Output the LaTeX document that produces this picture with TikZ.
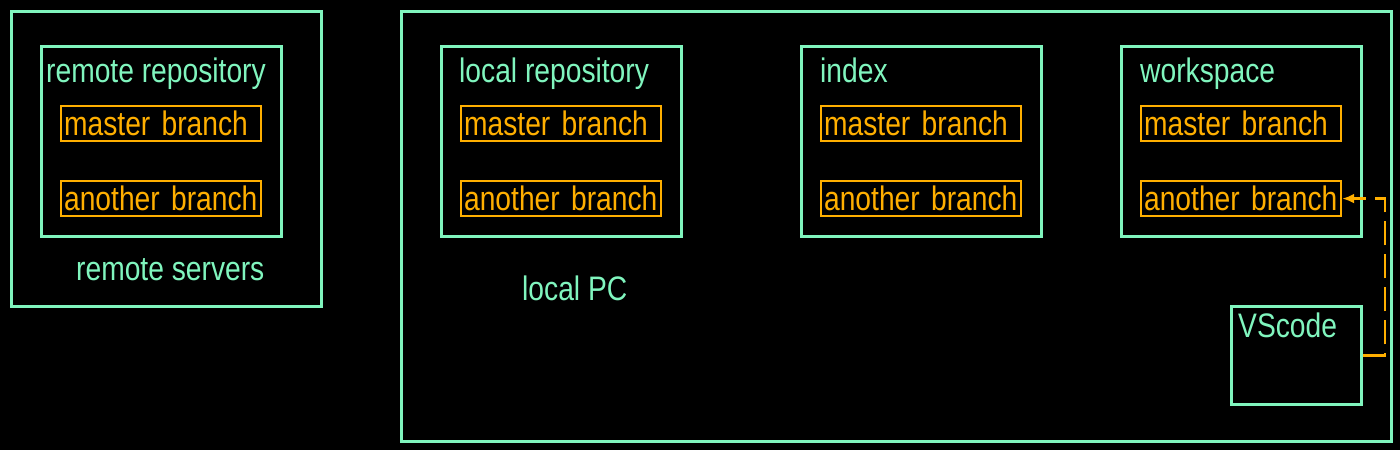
\documentclass[tikz,border=0pt]{standalone}
\usepackage{fontspec}
\setmainfont{Liberation Sans}[FakeStretch=0.83]
\usetikzlibrary{arrows.meta}
\definecolor{mint}{RGB}{128,245,190}
\definecolor{amber}{RGB}{255,175,0}
\begin{document}
\begin{tikzpicture}[x=1pt,y=-1pt,
  frame/.style={draw=mint, line width=2.8pt, anchor=north west, inner sep=0pt},
  branch/.style={draw=amber, line width=2.2pt, anchor=north west, minimum width=200pt, minimum height=35pt,
    inner xsep=3pt, inner ysep=0pt, text width=194pt, align=left, text=amber, text depth=0pt,
    font=\fontsize{34}{34}\selectfont},
  lbl/.style={text=mint, anchor=base west, inner sep=0pt, font=\fontsize{34}{34}\selectfont}]
\fill[black] (0,0) rectangle (1400,450);
\useasboundingbox (0,0) rectangle (1400,450);
% remote servers
\node[frame, minimum width=310pt, minimum height=295pt] (rs) at (10,10) {};
\node[frame, minimum width=240pt, minimum height=190pt] (rr) at (40,45) {};
\node[lbl] (rrt) at (46,82) {remote repository};
\node[branch] (rm) at (60,105) {master branch};
\node[branch] (ra) at (60,180) {another branch};
\node[lbl] (rst) at (76,280) {remote servers};
% local PC
\node[frame, minimum width=990pt, minimum height=430pt] (pc) at (400,10) {};
\node[lbl] (pct) at (522,300) {local PC};
\node[frame, minimum width=240pt, minimum height=190pt] (lr) at (440,45) {};
\node[lbl] (lrt) at (459,82) {local repository};
\node[branch] (lm) at (460,105) {master branch};
\node[branch] (la) at (460,180) {another branch};
\node[frame, minimum width=240pt, minimum height=190pt] (ix) at (800,45) {};
\node[lbl] (ixt) at (820,82) {index};
\node[branch] (im) at (820,105) {master branch};
\node[branch] (ia) at (820,180) {another branch};
\node[frame, minimum width=240pt, minimum height=190pt] (ws) at (1120,45) {};
\node[lbl] (wst) at (1140,82) {workspace};
\node[branch] (wm) at (1140,105) {master branch};
\node[branch] (wa) at (1140,180) {another branch};
\node[frame, minimum width=130pt, minimum height=98pt] (vs) at (1230,305) {};
\node[lbl] (vst) at (1238,337) {VScode};
\draw[amber, line width=2.5pt, dash pattern=on 24pt off 9pt, -{Latex[length=12pt,width=10pt]}]
  (vs.east) -- ++(22,0) |- (wa.east);
\end{tikzpicture}
\end{document}
